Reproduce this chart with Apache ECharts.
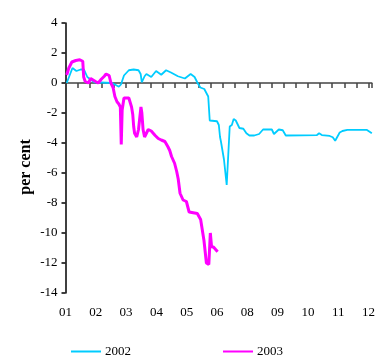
<!DOCTYPE html>
<html>
<head>
<meta charset="utf-8">
<script src="https://cdn.jsdelivr.net/npm/echarts@6/dist/echarts.min.js"></script>
<style>html,body{margin:0;padding:0;background:#fff}#c{width:378px;height:356px}</style>
</head>
<body>
<div id="c"></div>
<script>
// x positions are in label units: 0 = "01", 1 = "02", ... (label list skips 07)
var xLabels = ['01','02','03','04','05','06','08','09','10','11','12'];
var yTicks = [-14,-12,-10,-8,-6,-4,-2,0,2,4];

var x2002 = [0.04,0.23,0.36,0.50,0.61,0.72,0.85,0.95,1.54,1.63,1.76,1.83,1.93,2.09,2.25,2.41,2.48,2.52,2.61,2.67,2.83,2.99,3.16,3.32,3.48,3.71,3.94,4.13,4.26,4.36,4.45,4.58,4.71,4.76,5.00,5.06,5.10,5.13,5.23,5.32,5.42,5.49,5.55,5.62,5.68,5.74,5.87,5.97,6.07,6.23,6.39,6.52,6.81,6.88,7.04,7.17,7.27,8.30,8.37,8.46,8.72,8.82,8.90,8.95,9.05,9.14,9.30,9.63,9.95,10.11];
var y2002 = [0,1.0,0.8,0.9,0.9,0.4,0.2,0.05,0.0,-0.1,-0.25,-0.1,0.5,0.85,0.9,0.85,0.6,0.05,0.45,0.6,0.4,0.8,0.55,0.85,0.7,0.45,0.3,0.6,0.4,0.0,-0.3,-0.4,-0.9,-2.5,-2.55,-2.8,-3.6,-3.9,-5.1,-6.8,-2.9,-2.8,-2.4,-2.5,-2.47,-3.0,-3.05,-3.35,-3.5,-3.5,-3.4,-3.1,-3.1,-3.4,-3.1,-3.15,-3.5,-3.47,-3.35,-3.47,-3.53,-3.62,-3.85,-3.75,-3.3,-3.2,-3.13,-3.13,-3.13,-3.35];

var x2003 = [0.04,0.11,0.21,0.34,0.47,0.57,0.60,0.65,0.70,0.76,0.83,0.89,0.99,1.08,1.18,1.28,1.34,1.44,1.50,1.57,1.63,1.70,1.76,1.81,1.84,1.87,1.93,1.99,2.09,2.18,2.22,2.25,2.28,2.35,2.41,2.46,2.49,2.52,2.56,2.61,2.67,2.73,2.83,2.96,3.06,3.16,3.28,3.38,3.44,3.50,3.60,3.67,3.72,3.78,3.88,3.99,4.08,4.35,4.46,4.57,4.65,4.73,4.78,4.82,4.89,4.95,5.02];
var y2003 = [0.53,1.0,1.4,1.5,1.55,1.45,0.4,0.1,0.2,0.0,0.3,0.25,0.1,0.0,0.25,0.45,0.6,0.5,0.0,-0.3,-0.9,-1.25,-1.4,-1.6,-4.1,-1.8,-1.0,-0.9,-1.0,-1.6,-2.1,-2.9,-3.35,-3.6,-3.1,-3.0,-1.6,-2.0,-3.1,-3.6,-3.35,-3.1,-3.2,-3.5,-3.7,-3.8,-3.9,-4.25,-4.5,-4.9,-5.35,-5.9,-6.4,-7.35,-7.8,-7.9,-8.6,-8.7,-9.1,-10.5,-12.0,-12.1,-10.0,-10.9,-10.95,-11.0,-11.25];

function pairs(xs, ys){ return xs.map(function(x,i){ return [x, ys[i]]; }); }

var serif = '"Liberation Serif","DejaVu Serif",serif';
var xMax = 10.11;

var chart = echarts.init(document.getElementById('c'), null, {renderer:'canvas'});
chart.setOption({
  animation: false,
  backgroundColor: '#fff',
  grid: {left: 65.5, right: 0, top: 23, bottom: 63, containLabel: false},
  legend: {
    left: 70, top: 345, itemWidth: 30, itemHeight: 10, itemGap: 91,
    padding: 0,
    itemStyle: {opacity: 0},
    textStyle: {fontFamily: serif, fontSize: 13, color: '#000', padding: [0, 0, 0, -1]},
    data: ['2002','2003']
  },
  xAxis: [
    {
      type: 'value', min: 0, max: xMax, interval: 0.4,
      axisLine: {onZero: true, lineStyle: {color: '#444', width: 1.5}},
      axisTick: {show: true, length: 5, lineStyle: {color: '#444', width: 1.5}},
      axisLabel: {show: false},
      splitLine: {show: false}
    },
    {
      type: 'value', min: 0, max: xMax, interval: 1, position: 'bottom',
      axisLine: {show: false, onZero: false},
      axisTick: {show: false},
      splitLine: {show: false},
      axisLabel: {
        margin: 13, fontFamily: serif, fontSize: 13, color: '#000',
        showMaxLabel: false,
        formatter: function(v){
          var r = Math.round(v);
          if (Math.abs(v - r) > 1e-6) return '';
          return xLabels[r] || '';
        }
      }
    }
  ],
  yAxis: {
    type: 'value', min: yTicks[0], max: yTicks[yTicks.length-1], interval: 2,
    name: 'per cent', nameLocation: 'middle', nameGap: 32, nameRotate: 90,
    nameMoveOverlap: false,
    nameTextStyle: {fontFamily: serif, fontSize: 16, fontWeight: 'bold', color: '#000', padding: [0, 18, 0, 0]},
    axisLine: {show: true, onZero: false, lineStyle: {color: '#000', width: 1.5}},
    axisTick: {show: true, length: 4, lineStyle: {color: '#000', width: 1.5}},
    axisLabel: {margin: 8, fontFamily: serif, fontSize: 13, color: '#000'},
    splitLine: {show: false}
  },
  series: [
    {
      name: '2002', type: 'line', xAxisIndex: 0, data: pairs(x2002, y2002),
      symbol: 'none', smooth: false,
      lineStyle: {color: '#00CCFF', width: 1.8}, itemStyle: {color: '#00CCFF'}
    },
    {
      name: '2003', type: 'line', xAxisIndex: 0, data: pairs(x2003, y2003),
      symbol: 'none', smooth: false,
      lineStyle: {color: '#FF00FF', width: 3}, itemStyle: {color: '#FF00FF'}
    }
  ]
});
</script>
</body>
</html>
